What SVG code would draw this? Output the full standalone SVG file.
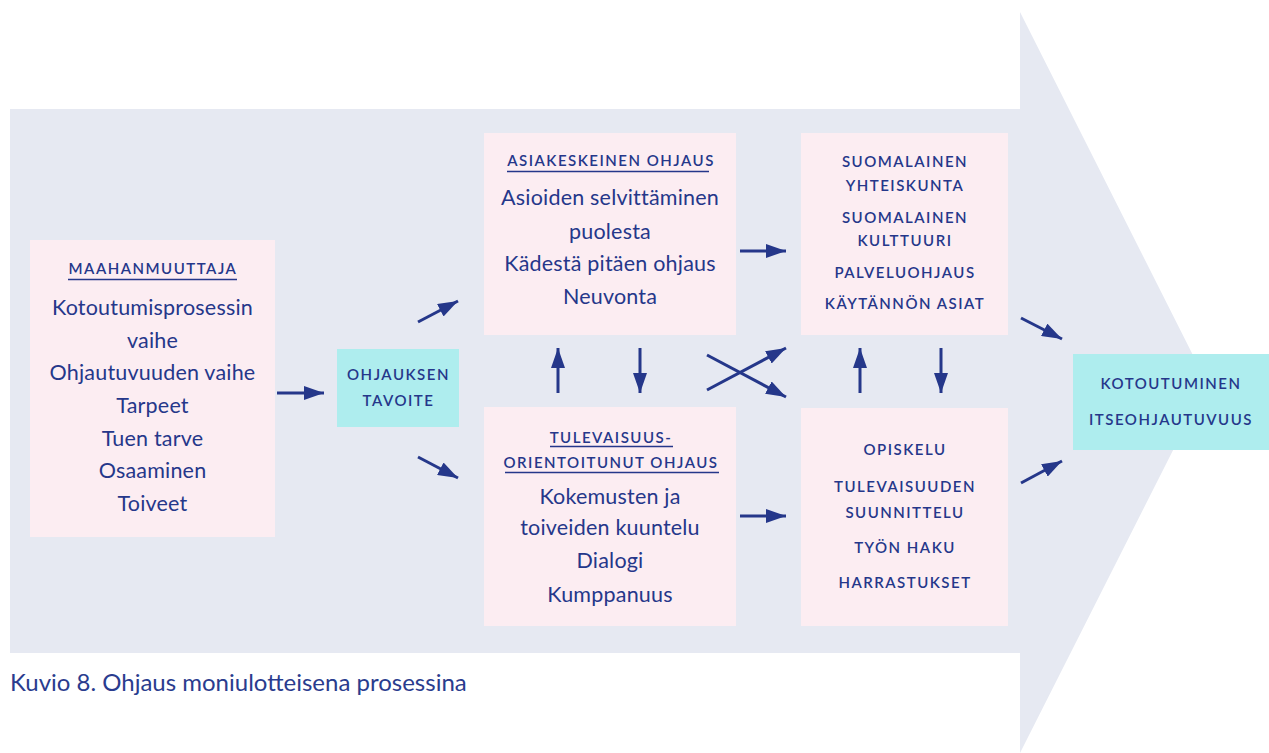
<svg xmlns="http://www.w3.org/2000/svg" width="1269" height="753" viewBox="0 0 1269 753">
<defs>
<marker id="ah" viewBox="0 0 20 14" refX="20" refY="7" markerWidth="20" markerHeight="14" markerUnits="userSpaceOnUse" orient="auto">
<path d="M0,0 L20,7 L0,14 z" fill="#25378a"/>
</marker>
<style>
.pink{fill:#fcedf2}
.cyan{fill:#aeedee}
.body{font-family:Lato,"Liberation Sans",sans-serif;font-size:21.5px;letter-spacing:0.2px;fill:#25378a;text-anchor:middle}
.cap{font-family:Lato,"Liberation Sans",sans-serif;font-size:15px;font-weight:600;letter-spacing:1.5px;fill:#25378a;text-anchor:middle}
.ul{stroke:#25378a;stroke-width:1.3}
.conn line{stroke:#25378a;stroke-width:3;marker-end:url(#ah)}
</style>
</defs>
<rect width="1269" height="753" fill="#ffffff"/>
<g id="bigarrow">
<path d="M10,109 L1020,109 L1020,12 L1207,383 L1020,753 L1020,653 L10,653 z" fill="#e6e9f2"/>
</g>
<g id="maahanmuuttaja">
<rect class="pink" x="30" y="240" width="245" height="297"/>
<text class="cap" x="153" y="274">MAAHANMUUTTAJA</text>
<line class="ul" x1="68" y1="279.5" x2="237" y2="279.5"/>
<text class="body" x="152.5" y="315">Kotoutumisprosessin</text>
<text class="body" x="152.5" y="348">vaihe</text>
<text class="body" x="152.5" y="380">Ohjautuvuuden vaihe</text>
<text class="body" x="152.5" y="413">Tarpeet</text>
<text class="body" x="152.5" y="446">Tuen tarve</text>
<text class="body" x="152.5" y="478">Osaaminen</text>
<text class="body" x="152.5" y="511">Toiveet</text>
</g>
<g id="tavoite">
<rect class="cyan" x="337" y="349" width="122" height="78"/>
<text class="cap" x="398.5" y="380">OHJAUKSEN</text>
<text class="cap" x="398.5" y="406">TAVOITE</text>
</g>
<g id="asiakeskeinen">
<rect class="pink" x="484" y="133" width="252" height="202"/>
<text class="cap" x="611" y="166">ASIAKESKEINEN OHJAUS</text>
<line class="ul" x1="507" y1="171.5" x2="709" y2="171.5"/>
<text class="body" x="610" y="205">Asioiden selvittäminen</text>
<text class="body" x="610" y="239">puolesta</text>
<text class="body" x="610" y="271">Kädestä pitäen ohjaus</text>
<text class="body" x="610" y="304">Neuvonta</text>
</g>
<g id="tulevaisuus">
<rect class="pink" x="484" y="407" width="252" height="219"/>
<text class="cap" x="611" y="443">TULEVAISUUS-</text>
<line class="ul" x1="550" y1="446.5" x2="673" y2="446.5"/>
<text class="cap" x="611" y="468">ORIENTOITUNUT OHJAUS</text>
<line class="ul" x1="505" y1="472.5" x2="719" y2="472.5"/>
<text class="body" x="610" y="504">Kokemusten ja</text>
<text class="body" x="610" y="535">toiveiden kuuntelu</text>
<text class="body" x="610" y="568">Dialogi</text>
<text class="body" x="610" y="602">Kumppanuus</text>
</g>
<g id="suomalainen">
<rect class="pink" x="801" y="133" width="207" height="202"/>
<text class="cap" x="905" y="167">SUOMALAINEN</text>
<text class="cap" x="905" y="191">YHTEISKUNTA</text>
<text class="cap" x="905" y="223">SUOMALAINEN</text>
<text class="cap" x="905" y="246">KULTTUURI</text>
<text class="cap" x="905" y="278">PALVELUOHJAUS</text>
<text class="cap" x="905" y="309">KÄYTÄNNÖN ASIAT</text>
</g>
<g id="opiskelu">
<rect class="pink" x="801" y="408" width="207" height="218"/>
<text class="cap" x="905" y="455">OPISKELU</text>
<text class="cap" x="905" y="492">TULEVAISUUDEN</text>
<text class="cap" x="905" y="518">SUUNNITTELU</text>
<text class="cap" x="905" y="553">TYÖN HAKU</text>
<text class="cap" x="905" y="588">HARRASTUKSET</text>
</g>
<g id="kotoutuminen">
<rect class="cyan" x="1073" y="354" width="196" height="96"/>
<text class="cap" x="1171" y="389">KOTOUTUMINEN</text>
<text class="cap" x="1171" y="425">ITSEOHJAUTUVUUS</text>
</g>
<g id="connectors" class="conn">
<line x1="277" y1="393" x2="324" y2="393"/>
<line x1="418" y1="322" x2="458" y2="301"/>
<line x1="418" y1="457" x2="458" y2="478"/>
<line x1="558" y1="393" x2="558" y2="348"/>
<line x1="640" y1="348" x2="640" y2="393"/>
<line x1="707" y1="355" x2="786" y2="397"/>
<line x1="707" y1="390" x2="786" y2="348"/>
<line x1="740" y1="251" x2="786" y2="251"/>
<line x1="740" y1="516" x2="786" y2="516"/>
<line x1="860" y1="393" x2="860" y2="348"/>
<line x1="941" y1="348" x2="941" y2="393"/>
<line x1="1021" y1="318" x2="1062" y2="339"/>
<line x1="1021" y1="483" x2="1062" y2="461"/>
</g>
<text x="10" y="691" style="font-family:Lato,'Liberation Sans',sans-serif;font-size:24px;fill:#2a3c8e">Kuvio 8. Ohjaus moniulotteisena prosessina</text>
</svg>
